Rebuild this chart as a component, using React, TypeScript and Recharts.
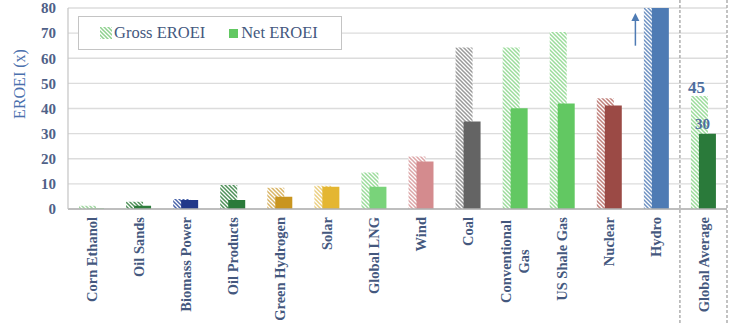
import React from "react"
import {
    Bar,
    BarChart,
    CartesianGrid,
    Cell,
    LabelList,
    ReferenceLine,
    XAxis,
    YAxis,
} from "recharts"

const categories = [
    "Corn Ethanol",
    "Oil Sands",
    "Biomass Power",
    "Oil Products",
    "Green Hydrogen",
    "Solar",
    "Global LNG",
    "Wind",
    "Coal",
    "Conventional Gas",
    "US Shale Gas",
    "Nuclear",
    "Hydro",
    "Global Average",
]

const grossEroei = [1.3, 2.9, 4.0, 9.6, 8.5, 9.3, 14.5, 20.9, 64.3, 64.3, 70.4, 44.1, 80, 45]
const netEroei = [0.3, 1.3, 3.6, 3.6, 4.9, 8.9, 8.9, 18.9, 34.8, 40.1, 42.0, 41.2, 80, 30]

const barColors = [
    "#8fd18f",
    "#2e7d3c",
    "#22398a",
    "#2a7a3a",
    "#c9951f",
    "#e4b631",
    "#79d37a",
    "#d48b8e",
    "#646464",
    "#62c862",
    "#62c862",
    "#9b4a45",
    "#4e7bb4",
    "#2a7a3a",
]

const hatchColors = [
    "#9fd69f",
    "#4f9159",
    "#4a64aa",
    "#4f9159",
    "#d9b566",
    "#ebcf80",
    "#9bdc9b",
    "#dca5a7",
    "#9a9a9a",
    "#9bdc9b",
    "#9bdc9b",
    "#c0807b",
    "#6f92c2",
    "#9bdc9b",
]

const yTicks = [0, 10, 20, 30, 40, 50, 60, 70, 80]

const data = categories.map((name, i) => ({
    name,
    gross: grossEroei[i],
    net: netEroei[i],
}))

const SERIF = "'Liberation Serif', 'DejaVu Serif', serif"
const TEXT = "#44587e"

function CategoryTick(props: any) {
    const { x, y, payload } = props
    const value: string = payload.value
    const lines = value === "Conventional Gas" ? ["Conventional", "Gas"] : [value]
    if (lines.length === 1) {
        return (
            <g transform={`translate(${x},${y})`}>
                <text transform="rotate(-90)" x={0} y={0} dy="0.35em" textAnchor="end"
                    fill={TEXT} fontFamily={SERIF} fontSize={14.5} fontWeight={600}>
                    {value}
                </text>
            </g>
        )
    }
    // two-line label, lines centred on the longer one
    const mid = -lines[0].length * 3.7
    return (
        <g transform={`translate(${x},${y})`}>
            <text transform="rotate(-90)" x={mid} y={-9} dy="0.35em" textAnchor="middle"
                fill={TEXT} fontFamily={SERIF} fontSize={14.5} fontWeight={600}>
                {lines[0]}
            </text>
            <text transform="rotate(-90)" x={mid} y={9} dy="0.35em" textAnchor="middle"
                fill={TEXT} fontFamily={SERIF} fontSize={14.5} fontWeight={600}>
                {lines[1]}
            </text>
        </g>
    )
}

function LegendBox() {
    return (
        <div
            style={{
                position: "absolute",
                left: 78,
                top: 16,
                width: 262,
                height: 32,
                border: "1px solid #c4c4c4",
                background: "#fff",
                display: "flex",
                alignItems: "center",
                fontFamily: SERIF,
                fontSize: 16.5,
                color: TEXT,
            }}
        >
            <svg width={12} height={12} style={{ marginLeft: 21, marginRight: 2 }}>
                <rect width={12} height={12} fill="url(#hatch-legend)" />
            </svg>
            <span>Gross EROEI</span>
            <span style={{ display: "inline-block", width: 9, height: 9, background: "#62c862", marginLeft: 24, marginRight: 3 }} />
            <span>Net EROEI</span>
        </div>
    )
}

function Separator(props: any) {
    const top = Math.min(props.y1, props.y2)
    const bottom = Math.max(props.y1, props.y2)
    return <line x1={props.x1} x2={props.x1} y1={top - 8} y2={bottom + 116} stroke="#9a9a9a" strokeWidth={1.2} strokeDasharray="3 2" />
}

function UpArrow(props: any) {
    const top = Math.min(props.y1, props.y2)
    const bottom = Math.max(props.y1, props.y2)
    const ax = props.x1 - 21
    return (
        <g>
            <line x1={ax} x2={ax} y1={bottom} y2={top + 6} stroke="#4e7bb4" strokeWidth={1.5} />
            <polygon points={`${ax - 4},${top + 8} ${ax + 4},${top + 8} ${ax},${top}`} fill="#4e7bb4" />
        </g>
    )
}

function hatch(id: string, color: string) {
    return (
        <pattern key={id} id={id} patternUnits="userSpaceOnUse" width={4} height={4}>
            <rect width={4} height={4} fill="#fff" />
            <path d="M-1,-1 L5,5 M-1,3 L1,5 M3,-1 L5,1" stroke={color} strokeWidth={1.5} />
        </pattern>
    )
}

export default function App() {
    return (
        <div style={{ position: "absolute", left: 0, top: 0, width: 744, height: 329, background: "#fff" }}>
            <BarChart
                width={744}
                height={329}
                data={data}
                margin={{ top: 8, right: 17, bottom: 0, left: 0 }}
                barGap={-9}
                barSize={17}
            >
                <defs>
                    {hatchColors.map((c, i) => hatch(`hatch-${i}`, c))}
                    {hatch("hatch-legend", "#8fd18f")}
                </defs>
                <CartesianGrid vertical={false} stroke="#dcdcdc" strokeWidth={1.4} />
                <XAxis
                    dataKey="name"
                    interval={0}
                    tickLine={false}
                    axisLine={{ stroke: "#b0b0b0", strokeWidth: 1.4 }}
                    height={120}
                    tick={<CategoryTick />}
                />
                <YAxis
                    width={68}
                    domain={[0, 80]}
                    ticks={yTicks}
                    interval={0}
                    allowDataOverflow
                    tickLine={false}
                    tickMargin={6}
                    axisLine={{ stroke: "#c4c4c4", strokeWidth: 1.2 }}
                    tick={{ fill: "#4f6188", fontSize: 15, fontFamily: SERIF, fontWeight: 700 }}
                    label={{
                        content: () => (
                            <text transform="translate(19,84) rotate(-90)" textAnchor="middle" dy="0.35em"
                                fill="#4a70ad" fontFamily={SERIF} fontSize={16}>
                                EROEI (x)
                            </text>
                        ),
                    }}
                />
                <Bar dataKey="gross" name="Gross EROEI" isAnimationActive={false}>
                    {data.map((d, i) => (
                        <Cell key={d.name} fill={`url(#hatch-${i})`} />
                    ))}
                    <LabelList
                        dataKey="gross"
                        position="top"
                        content={(p: any) =>
                            p.index === categories.length - 1 ? (
                                <text x={p.x + p.width / 2 - 3} y={p.y - 3} textAnchor="middle"
                                    fill="#4d6d9e" fontFamily={SERIF} fontSize={17} fontWeight={600}>
                                    {p.value}
                                </text>
                            ) : null
                        }
                    />
                </Bar>
                <Bar dataKey="net" name="Net EROEI" isAnimationActive={false}>
                    {data.map((d, i) => (
                        <Cell key={d.name} fill={barColors[i]} />
                    ))}
                    <LabelList
                        dataKey="net"
                        position="top"
                        content={(p: any) =>
                            p.index === categories.length - 1 ? (
                                <text x={p.x + p.width / 2 - 5} y={p.y - 5} textAnchor="middle"
                                    fill="#4d6d9e" fontFamily={SERIF} fontSize={15} fontWeight={600}>
                                    {p.value}
                                </text>
                            ) : null
                        }
                    />
                </Bar>
                <ReferenceLine x="Global Average" position="start" stroke="#9a9a9a" shape={<Separator />} />
                <ReferenceLine x="Global Average" position="end" stroke="#9a9a9a" shape={<Separator />} />
                <ReferenceLine
                    segment={[
                        { x: "Hydro", y: 65 },
                        { x: "Hydro", y: 78 },
                    ]}
                    shape={<UpArrow />}
                />
            </BarChart>
            <LegendBox />
        </div>
    )
}
